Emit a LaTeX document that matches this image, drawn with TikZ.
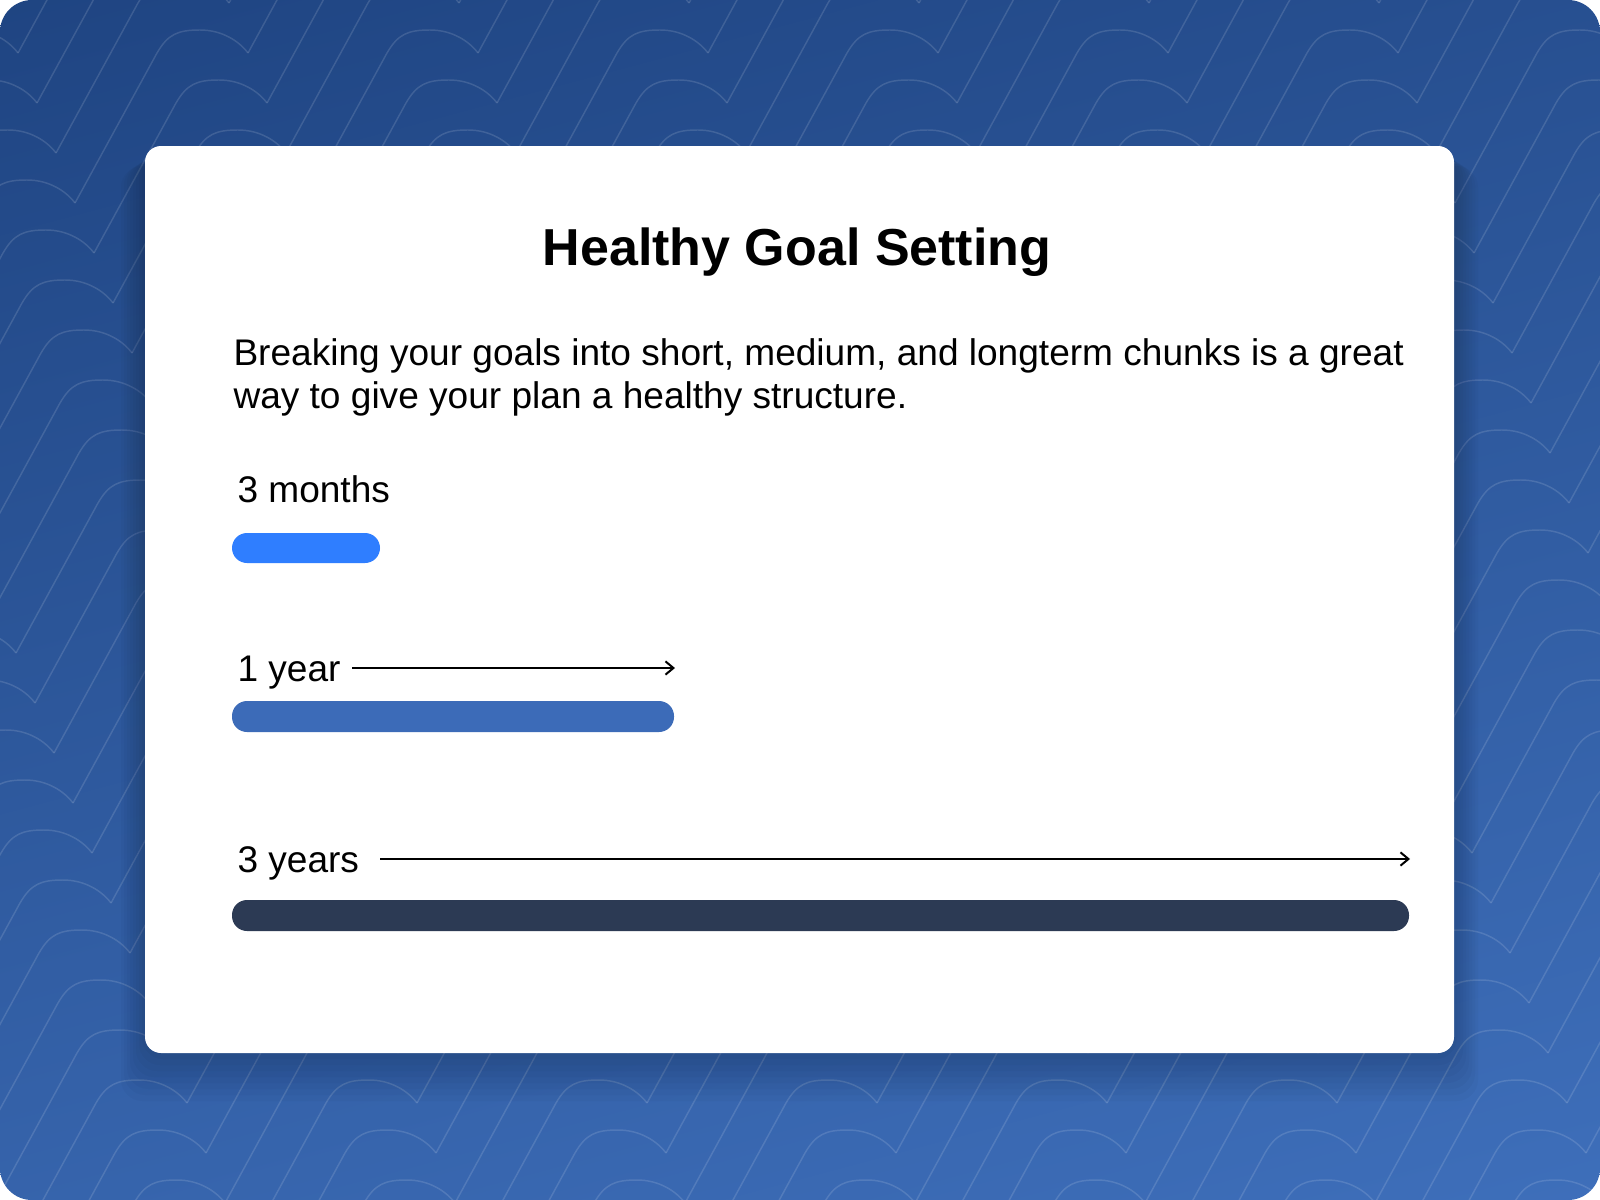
\documentclass[tikz,border=0pt]{standalone}
\usepackage{fontspec}
\setmainfont{Liberation Sans}
\usetikzlibrary{arrows.meta}

\definecolor{bgTop}{HTML}{1E4380}
\definecolor{bgBot}{HTML}{3F70BC}
\definecolor{barShort}{HTML}{2F7EFF}
\definecolor{barMid}{HTML}{3C6BB8}
\definecolor{barLong}{HTML}{2C3A54}

\tikzset{every picture/.style={line width=0.75pt}}
\tikzset{
  wave/.style={white, opacity=0.13, line width=1.1pt},
  heading/.style={anchor=base, inner sep=0pt, font=\fontsize{39}{46}\selectfont\bfseries},
  introtext/.style={anchor=base west, inner sep=0pt, font=\fontsize{27.8}{33}\selectfont},
  durtext/.style={anchor=base west, inner sep=0pt, font=\fontsize{27.8}{33}\selectfont},
  bar/.style={rounded corners=11.25pt},
  spanarrow/.style={-{Straight Barb[length=6pt,width=10pt]}, line width=1.5pt},
}

\begin{document}
\begin{tikzpicture}[x=0.75pt,y=0.75pt,yscale=-1,xscale=1]
	\useasboundingbox (0,0) rectangle (1600,1200);
	%Background with wave pattern
	\begin{scope}
		\clip[rounded corners=24pt] (0,0) rectangle (1600,1200);
		\shade[top color=bgTop, bottom color=bgBot, shading angle=15] (-200,-200) rectangle (1800,1400);
		\foreach \m in {-4,...,8}{
			\foreach \t in {-9,...,24}{
				\draw[wave, shift={(230*\m+19*\t+75,50*\t+203)}] (0,0) -- (82,-150) .. controls (93,-169) and (103,-173) .. (125,-173) .. controls (147,-173) and (164,-162) .. (173,-150);
			}
		}
		%Shadow under card
		\foreach \s in {1,...,8}{
			\fill[black, opacity=0.025, rounded corners=16pt] (145-3*\s,150+2*\s) rectangle (1454+3*\s,1053+6*\s);
		}
	\end{scope}
	%Card
	\fill[white, rounded corners=12pt] (145,146) rectangle (1454,1053);

	% Text Nodes
	\node[heading] (title) at (797,265) {Healthy Goal Setting};
	\node[introtext] (intro1) at (233,365) {Breaking your goals into short, medium, and longterm chunks is a great};
	\node[introtext] (intro2) at (233,408) {way to give your plan a healthy structure.};
	\node[durtext] (months) at (237,502) {3 months};
	\node[durtext] (oneyear) at (237,681) {1 year};
	\node[durtext] (threeyears) at (237,872) {3 years};

	%Bars
	\fill[bar, barShort] (232,533) rectangle (380,563);
	\fill[bar, barMid] (232,701) rectangle (674,732);
	\fill[bar, barLong] (232,900) rectangle (1409,931);

	%Arrows
	\coordinate (oneyearStart) at (352,668);
	\coordinate (oneyearEnd) at (675,668);
	\coordinate (threeyearsStart) at (380,859);
	\coordinate (threeyearsEnd) at (1410,859);
	\draw[spanarrow] (oneyearStart) -- (oneyearEnd);
	\draw[spanarrow] (threeyearsStart) -- (threeyearsEnd);
\end{tikzpicture}
\end{document}
